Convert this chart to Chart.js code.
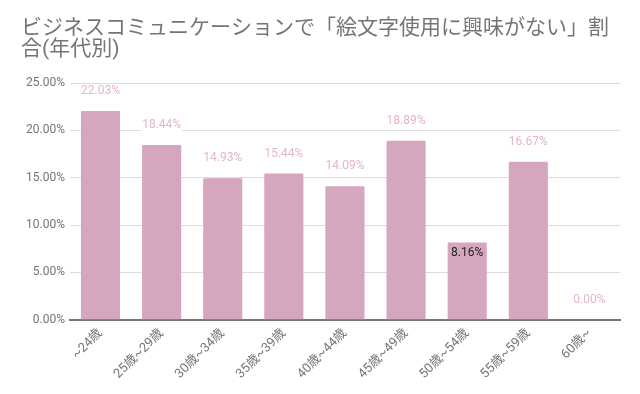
<!DOCTYPE html>
<html>
<head>
<meta charset="utf-8">
<script src="https://cdn.jsdelivr.net/npm/chart.js@4"></script>
<style>
html, body { margin: 0; padding: 0; background: #fff; }
#wrap { width: 640px; height: 394px; }
</style>
</head>
<body>
<div id="wrap"><canvas id="chart" width="640" height="394"></canvas></div>
<script>
// 年代別データ
const categories = ['~24歳', '25歳~29歳', '30歳~34歳', '35歳~39歳', '40歳~44歳', '45歳~49歳', '50歳~54歳', '55歳~59歳', '60歳~'];
const values = [22.03, 18.44, 14.93, 15.44, 14.09, 18.89, 8.16, 16.67, 0.00];
const yTicks = [0, 5, 10, 15, 20, 25];
const titleLines = ['ビジネスコミュニケーションで「絵文字使用に興味がない」割', '合(年代別)'];

const FONT = "Roboto, 'Noto Sans CJK JP', sans-serif";

// draw value labels above bars (or inside when flagged)
const labelPlugin = {
  id: 'valueLabels',
  afterDatasetsDraw(chart) {
    const ctx = chart.ctx;
    const meta = chart.getDatasetMeta(0);
    ctx.save();
    ctx.font = '12px ' + FONT;
    ctx.textAlign = 'center';
    ctx.textBaseline = 'middle';
    meta.data.forEach((bar, i) => {
      const txt = values[i].toFixed(2) + '%';
      if (i === 6) {
        ctx.fillStyle = '#222';
        ctx.fillText(txt, bar.x, bar.y + 11);
      } else {
        const y = bar.y - 20;
        const w = ctx.measureText(txt).width;
        ctx.fillStyle = '#fff';
        ctx.fillRect(bar.x - w / 2 - 1, y - 6, w + 2, 12);
        ctx.fillStyle = '#e3b5ca';
        ctx.fillText(txt, bar.x, y);
      }
    });
    ctx.restore();
  }
};

new Chart(document.getElementById('chart'), {
  type: 'bar',
  data: {
    labels: categories,
    datasets: [{
      data: values,
      backgroundColor: '#d5a6bd',
      borderRadius: 1,
      categoryPercentage: 0.64,
      barPercentage: 1.0
    }]
  },
  options: {
    responsive: false,
    animation: false,
    layout: { padding: { left: 21, right: 20, top: 0, bottom: 6 } },
    plugins: {
      legend: { display: false },
      tooltip: { enabled: false },
      title: {
        display: true,
        text: titleLines,
        align: 'start',
        color: '#757575',
        font: { family: FONT, size: 21, weight: 'normal', lineHeight: 1.0 },
        padding: { top: 18, bottom: 23 }
      }
    },
    scales: {
      x: {
        grid: { display: false, drawTicks: false },
        border: { color: '#777', width: 2 },
        ticks: {
          color: '#757575',
          font: { family: FONT, size: 13 },
          minRotation: 45,
          maxRotation: 45,
          padding: 6
        }
      },
      y: {
        min: 0,
        max: 25,
        afterBuildTicks(scale) { scale.ticks = yTicks.map(v => ({ value: v })); },
        grid: { color: '#dcdcdc', lineWidth: 1, drawTicks: false },
        border: { display: false },
        ticks: {
          color: '#757575',
          font: { family: FONT, size: 12 },
          padding: 5,
          callback: v => v.toFixed(2) + '%'
        }
      }
    }
  },
  plugins: [labelPlugin]
});
</script>
</body>
</html>
